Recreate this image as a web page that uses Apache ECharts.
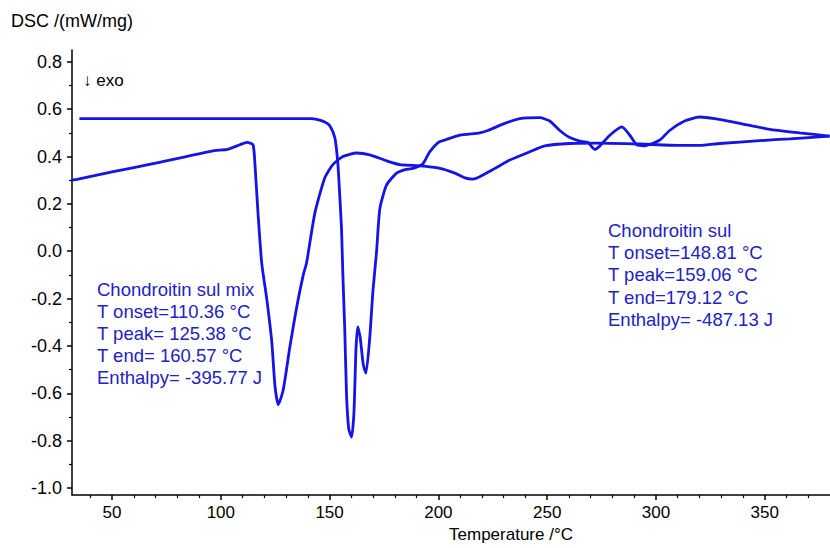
<!DOCTYPE html>
<html>
<head>
<meta charset="utf-8">
<script src="https://cdn.jsdelivr.net/npm/echarts@6/dist/echarts.min.js"></script>
<style>
  html, body { margin: 0; padding: 0; background: #fff; }
  #canvas1 { width: 830px; height: 548px; }
</style>
</head>
<body>
<div id="canvas1"></div>
<script>
// Chondroitin sul (pure) - temperature / DSC
var pureT = [35, 60, 100, 141, 145, 148, 150.1, 152.4, 153.8, 154.7, 155.5, 156.1, 157, 157.8, 158.8, 160.1,
  161.2, 162.1, 162.9, 164, 165.5, 166.7, 168.5, 169.9, 171.6, 173.1, 176.2, 180.8, 184.7, 188.3,
  192.9, 196, 200, 203, 209.9, 219, 222.7, 230.5, 237.4, 246.6, 251.2, 255.8, 260.4, 265, 268.7,
  271.9, 274.2, 278.8, 284.3, 288, 291.2, 294.8, 301.8, 306.3, 313.2, 320.1, 327, 338.5, 352.3, 366, 379.8];
var pureDsc = [0.56, 0.56, 0.56, 0.56, 0.555, 0.545, 0.53, 0.48, 0.37, 0.23, 0.09, -0.10, -0.34, -0.61, -0.75, -0.785,
  -0.68, -0.42, -0.32, -0.36, -0.48, -0.515, -0.36, -0.17, 0.0, 0.18, 0.28, 0.33, 0.345, 0.35,
  0.37, 0.42, 0.46, 0.47, 0.49, 0.50, 0.51, 0.54, 0.56, 0.564, 0.55, 0.51, 0.48, 0.465, 0.46,
  0.43, 0.445, 0.49, 0.525, 0.49, 0.45, 0.445, 0.47, 0.51, 0.55, 0.567, 0.56, 0.54, 0.515, 0.50, 0.486];

// Chondroitin sul mix
var mixT = [31.6, 33.9, 50, 70, 96.4, 103, 108.8, 112, 114.8, 115.7, 117.1, 118.8, 121.1, 123.4, 124.9, 126.4,
  128.7, 131.8, 134.8, 137.9, 139.4, 143.2, 147.8, 151.5, 156.1, 162.4, 168.5, 176.2, 182.3, 190,
  192.9, 200.7, 207.6, 212.2, 215.8, 219, 226, 232.8, 242, 248.9, 260.4, 274.2, 292.6, 310.9, 320.1,
  329.3, 347.7, 361.6, 379.8];
var mixDsc = [0.30, 0.304, 0.335, 0.372, 0.424, 0.43, 0.45, 0.46, 0.45, 0.366, 0.16, -0.05, -0.20, -0.38, -0.57, -0.648,
  -0.585, -0.40, -0.24, -0.10, -0.05, 0.16, 0.31, 0.366, 0.40, 0.415, 0.407, 0.382, 0.366, 0.362,
  0.36, 0.35, 0.33, 0.31, 0.305, 0.315, 0.35, 0.385, 0.42, 0.445, 0.455, 0.457, 0.453, 0.447, 0.447,
  0.455, 0.467, 0.475, 0.486];

var xMajor = [50, 100, 150, 200, 250, 300, 350];
var xMinor = [40, 60, 70, 80, 90, 110, 120, 130, 140, 160, 170, 180, 190, 210, 220, 230, 240,
  260, 270, 280, 290, 310, 320, 330, 340, 360, 370];
var yMajor = [-1.0, -0.8, -0.6, -0.4, -0.2, 0.0, 0.2, 0.4, 0.6, 0.8];
var yMinor = [-0.9, -0.7, -0.5, -0.3, -0.1, 0.1, 0.3, 0.5, 0.7];

var mixNotes = ['Chondroitin sul mix', 'T onset=110.36 °C', 'T peak= 125.38 °C', 'T end= 160.57 °C', 'Enthalpy= -395.77 J'];
var pureNotes = ['Chondroitin sul', 'T onset=148.81 °C', 'T peak=159.06 °C', 'T end=179.12 °C', 'Enthalpy= -487.13 J'];

function zip(a, b) {
  return a.map(function (v, i) { return [v, b[i]]; });
}

var font = 'Liberation Sans, Arial, sans-serif';
var lineBlue = '#1414e6';
var textBlue = '#2222c4';

var myChart = echarts.init(document.getElementById('canvas1'), null, { renderer: 'svg' });
var option = {
  animation: false,
  backgroundColor: '#fff',
  grid: { left: 72, right: 0, top: 50, bottom: 44, containLabel: false },
  xAxis: [
    {
      type: 'value', min: 31.6, max: 380,
      name: 'Temperature /°C', nameLocation: 'middle', nameGap: 25,
      nameTextStyle: { color: '#000', fontSize: 17, fontFamily: font, padding: [0, 0, 0, 120] },
      axisLine: { show: true, onZero: false, lineStyle: { color: '#000', width: 1.5 } },
      axisTick: { show: true, length: 5, customValues: xMajor, lineStyle: { color: '#000', width: 1.5 } },
      axisLabel: { customValues: xMajor, margin: 9, color: '#000', fontSize: 17, fontFamily: font },
      splitLine: { show: false }
    },
    {
      type: 'value', min: 31.6, max: 380, position: 'bottom',
      axisLine: { show: false, onZero: false },
      axisTick: { show: true, length: 3, customValues: xMinor, lineStyle: { color: '#000', width: 1.2 } },
      axisLabel: { show: false },
      splitLine: { show: false }
    }
  ],
  yAxis: [
    {
      type: 'value', min: -1.03, max: 0.85,
      name: 'DSC /(mW/mg)', nameLocation: 'end', nameGap: 20,
      nameTextStyle: { color: '#000', fontSize: 18, fontFamily: font, align: 'center' },
      axisLine: { show: true, onZero: false, lineStyle: { color: '#000', width: 1.5 } },
      axisTick: { show: true, length: 5, customValues: yMajor, lineStyle: { color: '#000', width: 1.5 } },
      axisLabel: {
        customValues: yMajor, margin: 10, color: '#000', fontSize: 18, fontFamily: font,
        formatter: function (v) { return v.toFixed(1); }
      },
      splitLine: { show: false }
    },
    {
      type: 'value', min: -1.03, max: 0.85, position: 'left',
      axisLine: { show: false, onZero: false },
      axisTick: { show: true, length: 3, customValues: yMinor, lineStyle: { color: '#000', width: 1.2 } },
      axisLabel: { show: false },
      splitLine: { show: false }
    }
  ],
  graphic: [
    { type: 'text', left: 83, top: 72, style: { text: '↓ exo', fill: '#000', fontSize: 17, fontFamily: font } },
    { type: 'text', left: 97, top: 279, style: { text: mixNotes.join('\n'), fill: textBlue, fontSize: 18.5, lineHeight: 21.8, fontFamily: font } },
    { type: 'text', left: 608, top: 219, style: { text: pureNotes.join('\n'), fill: textBlue, fontSize: 18.5, lineHeight: 22.3, fontFamily: font } }
  ],
  series: [
    {
      name: 'Chondroitin sul', type: 'line', xAxisIndex: 0, yAxisIndex: 0,
      showSymbol: false, smooth: 0.2,
      lineStyle: { color: lineBlue, width: 2.8 },
      data: zip(pureT, pureDsc)
    },
    {
      name: 'Chondroitin sul mix', type: 'line', xAxisIndex: 0, yAxisIndex: 0,
      showSymbol: false, smooth: 0.2,
      lineStyle: { color: lineBlue, width: 2.8 },
      data: zip(mixT, mixDsc)
    }
  ]
};
myChart.setOption(option);
</script>
</body>
</html>
